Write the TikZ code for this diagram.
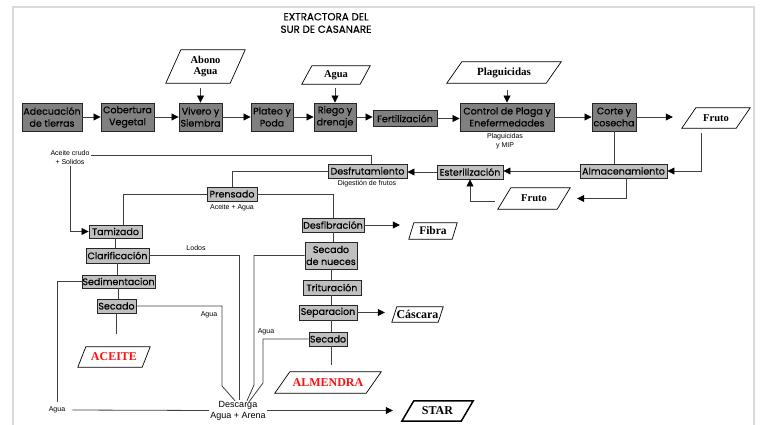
\documentclass[tikz,border=0pt]{standalone}
\usepackage{fontspec}
\usetikzlibrary{arrows.meta,calc}
\newfontfamily\boxfont{Poppins}[FakeBold=0.35]
\newfontfamily\lblfont{Liberation Sans}
\newfontfamily\parafont{Liberation Serif}
\definecolor{boxdark}{HTML}{808080}
\definecolor{boxlight}{HTML}{C0C0C0}
\definecolor{linec}{HTML}{404040}
\definecolor{framec}{HTML}{DADADA}
\definecolor{redtxt}{HTML}{FF1010}
\newcommand\mypara[3][0.7pt]{\draw[pshape, line width=#1] (#2.south west) -- ([xshift=-#3pt]#2.south east) -- (#2.north east) -- ([xshift=#3pt]#2.north west) -- cycle;}
\begin{document}
\begin{tikzpicture}[x=1pt,y=-1pt,
  dbox/.style={draw=black!85, fill=boxdark, line width=0.9pt, inner sep=0pt, align=center, font=\boxfont\fontsize{9.5}{12}\selectfont},
  lbox/.style={dbox, fill=boxlight, minimum height=14},
  ptext/.style={inner sep=0pt, align=center, font=\parafont\bfseries\fontsize{10.5}{11.5}\selectfont},
  pbig/.style={ptext, font=\parafont\bfseries\fontsize{12}{13}\selectfont},
  pshape/.style={draw=black},
  lbl/.style={inner sep=1pt, align=center, font=\lblfont\fontsize{7}{8.7}\selectfont},
  conn/.style={draw=linec, line width=0.8pt},
  arr/.style={conn, -{Triangle[length=7pt,width=7pt,color=black]}},
]
\useasboundingbox (0,0) rectangle (760,425);
% frame
\draw[framec, line width=1.5pt] (13,425) -- (13,7) -- (754,7) -- (754,425);

% title
\node[align=center, inner sep=0pt, font=\boxfont\fontsize{10.3}{12.5}\selectfont] (title) at (326,23) {EXTRACTORA DEL\\SUR DE CASANARE};

% top inputs
\node[ptext, minimum width=79, minimum height=33] (abono) at (205.5,66.5) {Abono\\Agua}; \mypara{abono}{15}
\node[ptext, minimum width=68, minimum height=18] (agua0) at (336,75) {Agua}; \mypara{agua0}{10}
\node[ptext, minimum width=114, minimum height=21, font=\parafont\bfseries\fontsize{11}{12}\selectfont] (plag) at (504,72.5) {Plaguicidas}; \mypara{plag}{15}
\node[ptext, minimum width=68, minimum height=20] (fruto1) at (716,118) {Fruto}; \mypara{fruto1}{14}

% top row
\node[dbox, minimum width=60, minimum height=28] (adec) at (52,117) {Adecuación\\de tierras};
\node[dbox, minimum width=53, minimum height=28] (cober) at (127.5,117) {Cobertura\\Vegetal};
\node[dbox, minimum width=43, minimum height=28] (vivero) at (200.5,117) {Vivero y\\Siembra};
\node[dbox, minimum width=42, minimum height=28] (plateo) at (272,117) {Plateo y\\Poda};
\node[dbox, minimum width=42, minimum height=28] (riego) at (335,117) {Riego y\\drenaje};
\node[dbox, minimum width=64, minimum height=16] (fert) at (405,118.5) {Fertilización};
\node[dbox, minimum width=94, minimum height=28] (ctrl) at (507,117) {Control de Plaga y\\Enefermedades};
\node[dbox, minimum width=44, minimum height=28] (corte) at (614,117) {Corte y\\cosecha};
\node[lbl] (pmip) at (505,141.5) {Plaguicidas\\y MIP};

\draw[arr] (adec.east) -- (cober.west);
\draw[arr] (cober.east) -- (vivero.west);
\draw[arr] (vivero.east) -- (plateo.west);
\draw[arr] (plateo.east) -- (riego.west);
\draw[arr] (riego.east) -- (riego.east -| fert.west);
\draw[arr] (fert.east) -- (fert.east -| ctrl.west);
\draw[arr] (ctrl.east) -- (corte.west);
\draw[arr, shorten >=9pt] (corte.east) -- (corte.east -| fruto1.west);
\draw[arr, shorten <=5pt] (vivero.north |- abono.south) -- (vivero.north);
\draw[arr, shorten <=4pt] (riego.north |- agua0.south) -- (riego.north);
\draw[arr, shorten <=7pt] (ctrl.north |- plag.south) -- (ctrl.north);

% storage row
\node[lbox, minimum width=87] (almac) at (623.5,171) {Almacenamiento};
\node[lbox, minimum width=66] (ester) at (470,172) {Esterilización};
\node[lbox, minimum width=79] (desfr) at (367.5,171) {Desfrutamiento};
\node[lbl] (dig) at (367,184) {Digestión de frutos};
\node[ptext, minimum width=72, minimum height=21] (fruto2) at (534,198.5) {Fruto}; \mypara{fruto2}{13}

\draw[conn] (corte.south) -- (corte.south |- almac.north);
\draw[arr, shorten <=5pt] ([xshift=-15pt]fruto1.south) |- (almac.east);
\draw[arr] (almac.west) -- (almac.west -| ester.east);
\draw[arr, shorten >=7pt] ([xshift=2.5pt]almac.south) |- (fruto2.east);
\draw[arr] ($(fruto2.west)+(-3,2.5)$) -| (ester.south);
\draw[arr] (ester.west) -- (ester.west -| desfr.east);

% pressing
\node[lbl] (acrudo) at (70,157.5) {Aceite crudo\\+ Solidos};
\node[lbox, minimum width=50] (prens) at (232,194) {Prensado};
\node[lbl] (aagua) at (232,208) {Aceite + Agua};
\draw[conn] ($(desfr.north)+(3.5,0)$) |- ($(acrudo.east)+(0,-2)$);
\draw[conn] (desfr.west) -| (prens.north);

% oil line
\node[lbox, minimum width=53, minimum height=13] (tamiz) at (115.5,231.5) {Tamizado};
\node[lbox, minimum width=63, minimum height=15] (clarif) at (117.5,255.5) {Clarificación};
\node[lbox, minimum width=73, minimum height=13] (sedim) at (118.5,281.5) {Sedimentacion};
\node[lbox, minimum width=39] (secado1) at (116.5,306) {Secado};
\node[pbig, minimum width=72, minimum height=20, text=redtxt] (aceite) at (114,357) {ACEITE}; \mypara{aceite}{8}

\draw[arr] (acrudo.south) |- (tamiz.west);
\draw[conn] (prens.west) -| ($(tamiz.north)+(7.5,0)$);
\draw[conn] (tamiz.south) -- (tamiz.south |- clarif.north);
\draw[conn] (clarif.south) -- (clarif.south |- sedim.north);
\draw[conn] (sedim.south) -- (sedim.south |- secado1.north);
\draw[conn, shorten >=13pt] (secado1.south) -- (secado1.south |- aceite.north);

% nut line
\node[lbox, minimum width=62] (desfib) at (333,225) {Desfibración};
\node[ptext, minimum width=48, minimum height=16, font=\parafont\bfseries\fontsize{11.5}{12}\selectfont] (fibra) at (433,231) {Fibra}; \mypara{fibra}{5}
\node[lbox, minimum width=52, minimum height=27] (secnuec) at (331,255.5) {Secado\\de nueces};
\node[lbox, minimum width=58, minimum height=15] (tritur) at (332,287.5) {Trituración};
\node[lbox, minimum width=58, minimum height=15] (separ) at (328,312.5) {Separacion};
\node[ptext, minimum width=51, minimum height=15, font=\parafont\bfseries\fontsize{12}{12}\selectfont] (cascara) at (417.5,314.5) {Cáscara}; \mypara{cascara}{5}
\node[lbox, minimum width=38] (secado2) at (328,339) {Secado};
\node[pbig, minimum width=106, minimum height=21, text=redtxt] (almendra) at (328,382.5) {ALMENDRA}; \mypara{almendra}{15}

\draw[conn] (prens.east) -| (desfib.north);
\draw[arr, shorten >=9pt] (desfib.east) -- (desfib.east -| fibra.west);
\draw[conn] (desfib.south) -- (desfib.south |- secnuec.north);
\draw[conn] (secnuec.south) -- (secnuec.south |- tritur.north);
\draw[conn] ($(separ.north)+(3,0)$) -- ($(tritur.south)+(-1,0)$);
\draw[conn] ($(separ.south)+(3,0)$) -- ($(secado2.north)+(3,0)$);
\draw[arr, shorten >=7pt] (separ.east) -- (separ.east -| cascara.west);
\draw[conn, shorten >=7pt] ($(secado2.south)+(3,0)$) -- ($(almendra.north)+(3,0)$);

% discharge
\node[inner sep=1pt, align=center, font=\lblfont\fontsize{9}{11}\selectfont] (desc) at (238,410.5) {Descarga\\Agua + Arena};
\node[lbl] (lodos) at (196,248) {Lodos};
\node[lbl] (agua1) at (209,315) {Agua};
\node[lbl] (agua2) at (266,332) {Agua};
\node[lbl] (agua3) at (57,410) {Agua};
\node[pbig, minimum width=71, minimum height=20] (star) at (437.5,411) {STAR}; \mypara[1.5pt]{star}{12}

\draw[conn] (clarif.east) -| ($(desc.north)+(1,0)$);
\draw[conn] (secado1.east) -| (222,386) -- ($(desc.north)+(-3,1)$);
\draw[conn] (secnuec.west) -| (254,385) -- ($(desc.north)+(9,1)$);
\draw[conn] (secado2.west) -| (263,383) -- ($(desc.north)+(11,2)$);
\draw[conn] (sedim.west) -| ($(agua3.north)+(0,-4)$);
\draw[conn] ($(agua3.east)+(6,0)$) -- (desc.west);
\draw[arr, shorten >=9pt] (desc.east) -- (desc.east -| star.west);
\end{tikzpicture}
\end{document}
